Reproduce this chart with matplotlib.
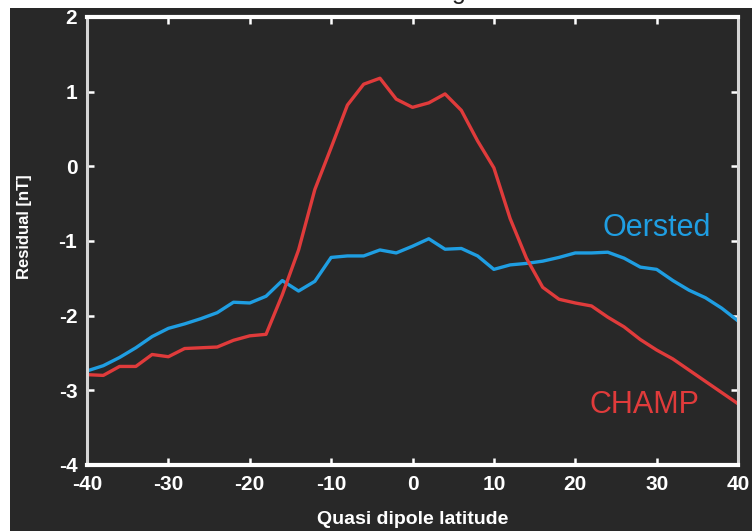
import matplotlib
matplotlib.use("Agg")
import matplotlib.pyplot as plt
from matplotlib.patches import Rectangle
import numpy as np

# ---- data ----
latitude = [-40, -38, -36, -34, -32, -30, -28, -26, -24, -22, -20, -18, -16, -14, -12,
            -10, -8, -6, -4, -2, 0, 2, 4, 6, 8, 10, 12, 14, 16, 18, 20, 22, 24, 26,
            28, 30, 32, 34, 36, 38, 40]

oersted = [-2.74, -2.67, -2.56, -2.43, -2.28, -2.17, -2.11, -2.04, -1.96, -1.82, -1.83,
           -1.74, -1.53, -1.67, -1.54, -1.22, -1.20, -1.20, -1.12, -1.16, -1.07, -0.97,
           -1.11, -1.10, -1.20, -1.38, -1.32, -1.30, -1.27, -1.22, -1.16, -1.16, -1.15,
           -1.23, -1.35, -1.38, -1.53, -1.66, -1.76, -1.90, -2.07]

champ = [-2.79, -2.80, -2.68, -2.68, -2.52, -2.55, -2.44, -2.43, -2.42, -2.33, -2.27,
         -2.25, -1.72, -1.12, -0.31, 0.25, 0.82, 1.10, 1.18, 0.90, 0.79, 0.85, 0.97,
         0.75, 0.34, -0.02, -0.70, -1.23, -1.62, -1.78, -1.83, -1.87, -2.02, -2.15,
         -2.32, -2.46, -2.58, -2.73, -2.88, -3.03, -3.18]

xticks = [-40, -30, -20, -10, 0, 10, 20, 30, 40]
yticks = [-4, -3, -2, -1, 0, 1, 2]
series_names = ["Oersted", "CHAMP"]
xlabel = "Quasi dipole latitude"
ylabel = "Residual [nT]"

# ---- style ----
BG = "#282828"
BLUE = "#1f9ee2"
RED = "#e03b3b"
W, H = 755, 531

plt.rcParams["font.family"] = ["Liberation Sans", "DejaVu Sans"]

fig = plt.figure(figsize=(W / 100, H / 100), dpi=100, facecolor="white")
fig.patches.append(Rectangle((10 / W, 0), (752 - 10) / W, (H - 8) / H,
                             transform=fig.transFigure, facecolor=BG,
                             edgecolor="none", zorder=-10))

ax = fig.add_axes([87 / W, (H - 465) / H, (738 - 87) / W, (465 - 17) / H])
ax.set_facecolor(BG)

ax.plot(latitude, oersted, color=BLUE, lw=2.4, solid_joinstyle="round")
ax.plot(latitude, champ, color=RED, lw=2.4, solid_joinstyle="round")

ax.set_xlim(-40, 40)
ax.set_ylim(-4, 2)
ax.set_xticks(xticks)
ax.set_yticks(yticks)
ax.set_xticklabels([str(t) for t in xticks])
ax.set_yticklabels([str(t) for t in yticks])

for s in ("top", "bottom"):
    ax.spines[s].set_color("white")
    ax.spines[s].set_linewidth(3)
for s in ("left", "right"):
    ax.spines[s].set_color("#d5d5d5")
    ax.spines[s].set_linewidth(2.2)

ax.tick_params(axis="both", direction="in", length=5, width=1.8, color="white",
               top=True, right=True, labelcolor="white", labelsize=15)
ax.tick_params(axis="x", pad=7)
ax.tick_params(axis="y", pad=7)
for lab in ax.get_xticklabels() + ax.get_yticklabels():
    lab.set_fontweight("bold")

ax.text(23.4, -0.93, series_names[0], color=BLUE, fontsize=22, ha="left", va="baseline")
ax.text(21.8, -3.30, series_names[1], color=RED, fontsize=22, ha="left", va="baseline")

fig.text(413 / W, 1 - 519 / H, xlabel, color="white", fontsize=14, fontweight="bold",
         ha="center", va="center")
fig.text(25 / W, 1 - 227 / H, ylabel, color="white", fontsize=12, fontweight="bold",
         ha="center", va="center", rotation=90)

# title, almost entirely cut off at the top of the picture
fig.text(459 / W, 1 + 1 / H, "g", color="#222222", fontsize=18, ha="center",
         va="baseline")

fig.savefig("out.png", dpi=100, facecolor=fig.get_facecolor())
